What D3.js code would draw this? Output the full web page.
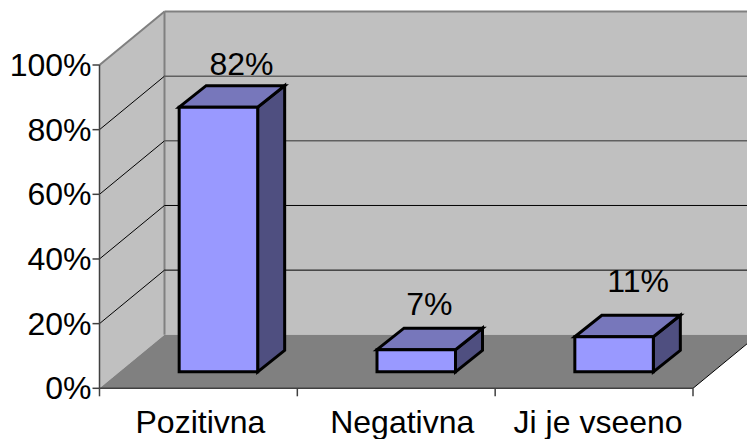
<!DOCTYPE html>
<html><head><meta charset="utf-8">
<script src="https://cdn.jsdelivr.net/npm/d3@7"></script>
<style>html,body{margin:0;padding:0;background:#fff}svg{display:block}text{font-family:"Liberation Sans",Arial,sans-serif;fill:#000}</style>
</head><body><svg id="c" width="747" height="439"></svg>
<script>
const categories = ["Pozitivna", "Negativna", "Ji je vseeno"];
const values = [0.82, 0.07, 0.11];
const valueLabels = ["82%", "7%", "11%"];
const yTicks = [0, 0.2, 0.4, 0.6, 0.8, 1];

const W = 747, H = 439, fs = 32;
const x0 = 99.5, x1 = 693, yb = 388.3, yt = 65;
const dx = 65, dy = -53.5;          // wall depth
const bdx = 27, bdy = -21.5;        // bar depth
const inset = 16.5;                 // bar base raised from the floor front edge
const svg = d3.select("#c");
const x = d3.scaleBand().domain(categories).range([x0, x1]).paddingInner(0).paddingOuter(0);
const y = d3.scaleLinear().domain([0, 1]).range([yb, yt]);
const poly = (pts, fill, stroke, sw) => svg.append("polygon")
  .attr("points", pts.map(p => p.join(",")).join(" "))
  .attr("fill", fill).attr("stroke", stroke || "none").attr("stroke-width", sw || 0)
  .attr("stroke-linejoin", "miter");

// walls and floor
poly([[x0+dx, y(1)+dy], [x1+dx, y(1)+dy], [x1+dx, yb+dy], [x0+dx, yb+dy]], "#c0c0c0");
poly([[x0, y(1)], [x0+dx, y(1)+dy], [x0+dx, yb+dy], [x0, yb]], "#c0c0c0");
poly([[x0, yb], [x0+dx, yb+dy], [x1+dx, yb+dy], [x1, yb]], "#808080");

// wall borders
const line = (a, b, c, w) => svg.append("line").attr("x1", a[0]).attr("y1", a[1]).attr("x2", b[0]).attr("y2", b[1]).attr("stroke", c).attr("stroke-width", w);
line([x0, y(1)], [x0+dx, y(1)+dy], "#808080", 2);
line([x0+dx, y(1)+dy], [x1+dx, y(1)+dy], "#808080", 2);
line([x0+dx, y(1)+dy], [x0+dx, yb+dy], "#808080", 2);
line([x1, yb], [x1+dx, yb+dy], "#000", 1);

// gridlines
yTicks.filter(t => t > 0 && t < 1).forEach(t => {
  line([x0, y(t)], [x0+dx, y(t)+dy], "#000", 1);
  line([x0+dx, y(t)+dy], [x1+dx, y(t)+dy], t >= 0.6 ? "#606060" : "#000", t >= 0.6 ? 1.5 : 1);
});

// axes
line([x0, y(1)], [x0, yb], "#404040", 1.5);
line([x0, yb], [x1, yb], "#404040", 1.5);
yTicks.forEach(t => {
  line([x0-7, y(t)], [x0, y(t)], "#404040", 1.5);
  svg.append("text").attr("x", x0-8).attr("y", y(t)+11).attr("text-anchor", "end")
    .attr("font-size", fs).text(d3.format(".0%")(t));
});
[x0, ...categories.map(c => x(c)+x.bandwidth())].forEach(v => line([v, yb], [v, yb+8], "#404040", 1.5));
const catShift = [2, 6, 4];
categories.forEach((c, i) => svg.append("text").attr("x", x(c)+x.bandwidth()/2+catShift[i]).attr("y", 433)
  .attr("text-anchor", "middle").attr("font-size", fs).text(c));

// bars
const barW = 78.5, shift = 20;
const labelRaise = [32, 35, 45];
const labelShift = [23, 13, 24];
values.forEach((v, i) => {
  const cx = x(categories[i]) + x.bandwidth()/2 + shift;
  const l = cx - barW/2, r = cx + barW/2;
  const b = yb - inset, t = y(v) - inset + 0.5;
  poly([[r, t], [r+bdx, t+bdy], [r+bdx, b+bdy], [r, b]], "#4f4f80", "#000", 3);
  poly([[l, t], [l+bdx, t+bdy], [r+bdx, t+bdy], [r, t]], "#7777bb", "#000", 3);
  poly([[l, t], [r, t], [r, b], [l, b]], "#9999ff", "#000", 3);
  svg.append("text").attr("x", cx + labelShift[i]).attr("y", t - labelRaise[i])
    .attr("text-anchor", "middle").attr("font-size", fs).text(valueLabels[i]);
});
</script></body></html>
